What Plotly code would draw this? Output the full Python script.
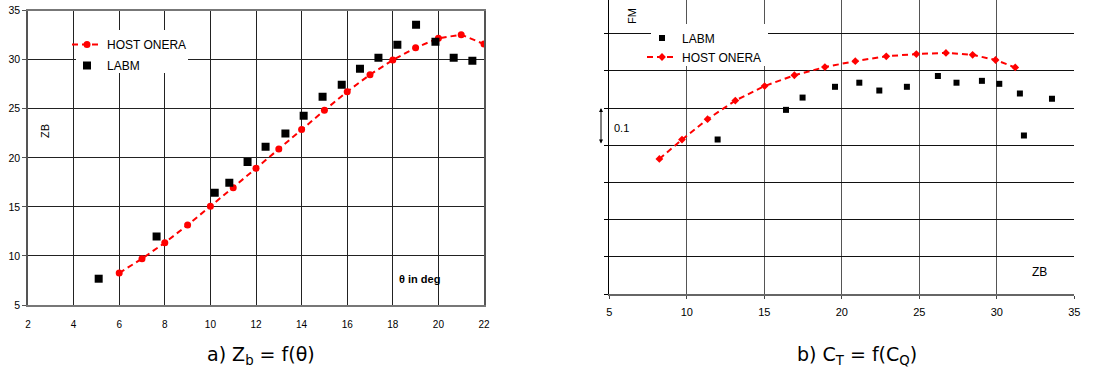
import plotly.graph_objects as go

W, H = 1096, 370
FONT = "Liberation Sans, Arial, sans-serif"
CAP_FONT = "DejaVu Sans, Liberation Sans, sans-serif"

# ---- Chart a) Zb = f(theta) ----
a_host_theta = [6, 7, 8, 9, 10, 11, 12, 13, 14, 15, 16, 17, 18, 19, 20, 21, 22]
a_host_zb = [8.26, 9.72, 11.35, 13.15, 15.06, 16.96, 18.93, 20.9, 22.9, 24.84,
             26.75, 28.48, 29.97, 31.23, 32.18, 32.56, 31.6]
a_labm_theta = [5.1, 7.64, 10.19, 10.83, 11.63, 12.42, 13.29, 14.09, 14.92, 15.76,
                16.56, 17.37, 18.2, 19.02, 19.87, 20.67, 21.49]
a_labm_zb = [7.68, 11.97, 16.45, 17.47, 19.58, 21.14, 22.47, 24.3, 26.24, 27.46,
             29.09, 30.21, 31.54, 33.58, 31.84, 30.21, 29.91]

# ---- Chart b) CT = f(CQ) : FM vs ZB ----
b_host_zb = [8.23, 9.69, 11.34, 13.13, 15.02, 16.94, 18.91, 20.87, 22.87, 24.81,
             26.72, 28.44, 29.92, 31.19]
b_host_fm = [0.363, 0.415, 0.470, 0.520, 0.559, 0.588, 0.610, 0.626, 0.639, 0.645,
             0.648, 0.643, 0.629, 0.609]
b_labm_zb = [11.99, 16.40, 17.47, 19.56, 21.13, 22.42, 24.2, 26.2, 27.4, 29.04,
             30.16, 31.49, 31.75, 33.56]
b_labm_fm = [0.415, 0.495, 0.528, 0.557, 0.568, 0.547, 0.557, 0.586, 0.568, 0.573,
             0.565, 0.539, 0.426, 0.525]

a_xticks = list(range(2, 23, 2))
a_yticks = list(range(5, 36, 5))
b_xticks = list(range(5, 36, 5))


def px(x):
    return x / W


def py(y):
    return 1 - y / H


fig = go.Figure()

fig.add_trace(go.Scatter(
    x=a_host_theta, y=a_host_zb, name="HOST ONERA", mode="lines+markers",
    line=dict(color="#ff0000", width=2, dash="6px,4px"),
    marker=dict(color="#ff0000", size=7, symbol="circle"),
    xaxis="x", yaxis="y", legend="legend", legendgroup="a1"))
fig.add_trace(go.Scatter(
    x=a_labm_theta, y=a_labm_zb, name="LABM", mode="markers",
    marker=dict(color="#000000", size=8, symbol="square"),
    xaxis="x", yaxis="y", legend="legend", legendgroup="a2"))

fig.add_trace(go.Scatter(
    x=b_labm_zb, y=b_labm_fm, name="LABM", mode="markers",
    marker=dict(color="#000000", size=6, symbol="square"),
    xaxis="x2", yaxis="y2", legend="legend2", legendgroup="b1"))
fig.add_trace(go.Scatter(
    x=b_host_zb, y=b_host_fm, name="HOST ONERA", mode="lines+markers",
    line=dict(color="#ff0000", width=2, dash="6px,4px"),
    marker=dict(color="#ff0000", size=6, symbol="diamond"),
    xaxis="x2", yaxis="y2", legend="legend2", legendgroup="b2"))

# right chart: bottom gridline (0) at y=294, 37.2 px per 0.1, plot top at y=0
b_ytop = 294 / 372.0

fig.update_layout(
    width=W, height=H,
    margin=dict(l=0, r=0, t=0, b=0, autoexpand=False),
    paper_bgcolor="white", plot_bgcolor="white",
    font=dict(family=FONT, color="#000"),
    showlegend=True,
    xaxis=dict(domain=[px(28), px(484)], range=[2, 22], tickvals=a_xticks,
               showgrid=True, gridcolor="#222", gridwidth=1,
               showline=True, linecolor="#777", linewidth=2, mirror=True,
               ticks="", tickfont=dict(family=FONT, size=10),
               ticklabelstandoff=9, zeroline=False, anchor="y", automargin=False),
    yaxis=dict(domain=[py(305), py(10.5)], range=[5, 35.02], tickvals=a_yticks,
               showgrid=True, gridcolor="#222", gridwidth=1,
               showline=True, linecolor="#555", linewidth=1.5, mirror=True,
               ticks="outside", ticklen=4, tickcolor="#555",
               tickfont=dict(family=FONT, size=10.5), zeroline=False, anchor="x",
               automargin=False, ticklabeloverflow="allow"),
    xaxis2=dict(domain=[px(609.3), px(1074.3)], range=[5, 35], tickvals=b_xticks,
                showgrid=True, gridcolor="#555", gridwidth=1,
                showline=True, linecolor="#666", linewidth=2,
                ticks="outside", ticklen=3, tickcolor="#444",
                tickfont=dict(family=FONT, size=11),
                ticklabelstandoff=4, zeroline=False, anchor="y2", automargin=False,
                ticklabeloverflow="allow"),
    yaxis2=dict(domain=[py(294), 1.0], range=[0, b_ytop], dtick=0.1, tick0=0,
                showgrid=True, gridcolor="#111", gridwidth=1,
                showline=True, linecolor="#000", linewidth=1,
                ticks="outside", ticklen=4, tickcolor="#000",
                showticklabels=False, zeroline=False, anchor="x2", automargin=False),
    legend=dict(x=px(67), y=py(30), xanchor="left", yanchor="top",
                bgcolor="rgba(0,0,0,0)", borderwidth=0, itemwidth=30,
                traceorder="grouped", tracegroupgap=2,
                font=dict(family=FONT, size=12, color="#000")),
    legend2=dict(x=px(642), y=py(23.5), xanchor="left", yanchor="top",
                 bgcolor="rgba(0,0,0,0)", borderwidth=0, itemwidth=30,
                 traceorder="grouped", tracegroupgap=0,
                 font=dict(family=FONT, size=12, color="#000")),
)

# white legend boxes hiding the gridlines
fig.add_shape(type="rect", xref="paper", yref="paper", layer="above",
              x0=px(76), x1=px(188), y0=py(73), y1=py(30),
              fillcolor="white", line=dict(width=0))
fig.add_shape(type="rect", xref="paper", yref="paper", layer="above",
              x0=px(651), x1=px(768), y0=py(66), y1=py(24),
              fillcolor="white", line=dict(width=0))

annotations = [
    dict(x=px(45), y=py(131), text="ZB", textangle=-90, showarrow=False,
         font=dict(family=FONT, size=11)),
    dict(x=px(419), y=py(279), text="<b>θ in deg</b>", showarrow=False,
         font=dict(family=FONT, size=11)),
    dict(x=px(632), y=py(16), text="FM", textangle=-90, showarrow=False,
         font=dict(family=FONT, size=11)),
    dict(x=px(621), y=py(128), text="0.1", showarrow=False,
         font=dict(family=FONT, size=11)),
    dict(x=px(1039), y=py(272), text="ZB", showarrow=False,
         font=dict(family=FONT, size=12)),
    dict(x=px(261), y=py(355), text="a) Z<sub>b</sub> = f(θ)", showarrow=False,
         font=dict(family=CAP_FONT, size=19)),
    dict(x=px(857), y=py(355), text="b) C<sub>T</sub> = f(C<sub>Q</sub>)",
         showarrow=False, font=dict(family=CAP_FONT, size=19)),
]
annotations = [dict(xref="paper", yref="paper", xanchor="center", yanchor="middle", **a)
               for a in annotations]
annotations.append(dict(xref="paper", yref="paper", x=px(601), y=py(108),
                        ax=0, ay=37, text="", showarrow=True,
                        arrowhead=2, startarrowhead=2, arrowside="end+start",
                        arrowsize=0.8, arrowwidth=1, arrowcolor="#000"))
fig.update_layout(annotations=annotations)

fig.write_html("out.html",
               config={"displayModeBar": False},
               post_script="document.body.style.margin='0';document.body.style.overflow='hidden';")
